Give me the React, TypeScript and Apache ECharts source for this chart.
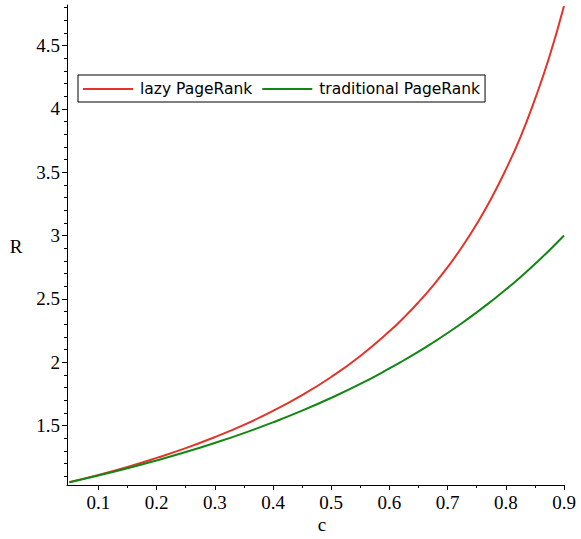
import React, { useEffect, useRef } from "react";
import * as echarts from "echarts";

// damping factor c
const cValues = [
  0.05, 0.1, 0.15, 0.2, 0.25, 0.3, 0.35, 0.4, 0.45, 0.5, 0.55, 0.6, 0.625, 0.65, 0.675,
  0.7, 0.725, 0.75, 0.775, 0.8, 0.825, 0.85, 0.875, 0.9,
];
// R for lazy PageRank
const lazyValues = [
  1.052, 1.11, 1.173, 1.244, 1.321, 1.408, 1.505, 1.615, 1.74, 1.883, 2.049, 2.243, 2.353,
  2.473, 2.605, 2.75, 2.911, 3.091, 3.292, 3.52, 3.775, 4.075, 4.413, 4.812,
];
// R for traditional PageRank
const traditionalValues = [
  1.052, 1.105, 1.162, 1.224, 1.29, 1.362, 1.44, 1.525, 1.617, 1.718, 1.828, 1.95, 2.015,
  2.083, 2.155, 2.23, 2.309, 2.393, 2.481, 2.573, 2.671, 2.775, 2.884, 3.0,
];

const xMajorTicks = [0.1, 0.2, 0.3, 0.4, 0.5, 0.6, 0.7, 0.8, 0.9];
const xMinorTicks = [0.15, 0.25, 0.35, 0.45, 0.55, 0.65, 0.75, 0.85];
const yMajorTicks = [1.5, 2, 2.5, 3, 3.5, 4, 4.5];
const yMinorTicks = [
  1.1, 1.2, 1.3, 1.4, 1.6, 1.7, 1.8, 1.9, 2.1, 2.2, 2.3, 2.4, 2.6, 2.7, 2.8, 2.9,
  3.1, 3.2, 3.3, 3.4, 3.6, 3.7, 3.8, 3.9, 4.1, 4.2, 4.3, 4.4, 4.6, 4.7, 4.8,
];

const seriesNames = ["lazy PageRank", "traditional PageRank"];
const seriesColors = ["#e3342a", "#138613"];

const X_MIN = 0.046;
const X_MAX = 0.9;
const Y_MIN = 1.03;
const Y_MAX = 4.82;

const serif = "'Liberation Serif', 'Times New Roman', serif";

export default function App() {
  const ref = useRef<HTMLDivElement>(null);

  useEffect(() => {
    if (!ref.current) return;
    const chart = echarts.init(ref.current, undefined, { renderer: "svg" });

    const axisLineStyle = { color: "#000", width: 1 };
    const labelStyle = { color: "#000", fontFamily: serif, fontSize: 19 };

    const xBase = {
      type: "value" as const,
      min: X_MIN,
      max: X_MAX,
      position: "bottom" as const,
      splitLine: { show: false },
    };
    const yBase = {
      type: "value" as const,
      min: Y_MIN,
      max: Y_MAX,
      position: "left" as const,
      splitLine: { show: false },
    };

    chart.setOption({
      animation: false,
      backgroundColor: "#fff",
      grid: { left: 67, right: 17, top: 5, bottom: 54 },
      xAxis: [
        {
          ...xBase,
          axisLine: { show: true, onZero: false, lineStyle: axisLineStyle },
          axisTick: { show: true, length: 5, customValues: xMajorTicks, lineStyle: axisLineStyle },
          axisLabel: { show: true, customValues: xMajorTicks, margin: 8, ...labelStyle },
        },
        {
          ...xBase,
          axisLine: { show: false },
          axisTick: { show: true, length: 3, customValues: xMinorTicks, lineStyle: axisLineStyle },
          axisLabel: { show: false },
        },
      ],
      yAxis: [
        {
          ...yBase,
          axisLine: { show: true, onZero: false, lineStyle: axisLineStyle },
          axisTick: { show: true, length: 5, customValues: yMajorTicks, lineStyle: axisLineStyle },
          axisLabel: { show: true, customValues: yMajorTicks, margin: 7, ...labelStyle },
        },
        {
          ...yBase,
          axisLine: { show: false },
          axisTick: { show: true, length: 3, customValues: yMinorTicks, lineStyle: axisLineStyle },
          axisLabel: { show: false },
        },
      ],
      legend: {
        left: 78,
        top: 75,
        orient: "horizontal",
        backgroundColor: "#fff",
        borderColor: "#000",
        borderWidth: 1,
        padding: [6, 5, 5, 5],
        itemGap: 10,
        itemWidth: 50,
        itemHeight: 2,
        data: seriesNames.map((name) => ({ name, icon: "rect" })),
        textStyle: {
          color: "#000",
          fontFamily: "'DejaVu Sans', sans-serif",
          fontSize: 15.5,
          lineHeight: 16,
          padding: [0, 0, 0, 2],
        },
      },
      graphic: [
        {
          type: "text",
          x: 16,
          y: 246,
          style: { text: "R", fill: "#000", font: `19px ${serif}`, align: "center", verticalAlign: "middle" },
        },
        {
          type: "text",
          x: 322,
          y: 524,
          style: { text: "c", fill: "#000", font: `19px ${serif}`, align: "center", verticalAlign: "middle" },
        },
      ],
      series: [lazyValues, traditionalValues].map((vals, i) => ({
        name: seriesNames[i],
        type: "line",
        xAxisIndex: 0,
        yAxisIndex: 0,
        data: cValues.map((c, j) => [c, vals[j]]),
        symbol: "none",
        smooth: true,
        color: seriesColors[i],
        lineStyle: { color: seriesColors[i], width: 2 },
        clip: false,
      })),
    });

    return () => chart.dispose();
  }, []);

  return (
    <div
      ref={ref}
      style={{ position: "absolute", left: 0, top: 0, width: 581, height: 539 }}
    />
  );
}
